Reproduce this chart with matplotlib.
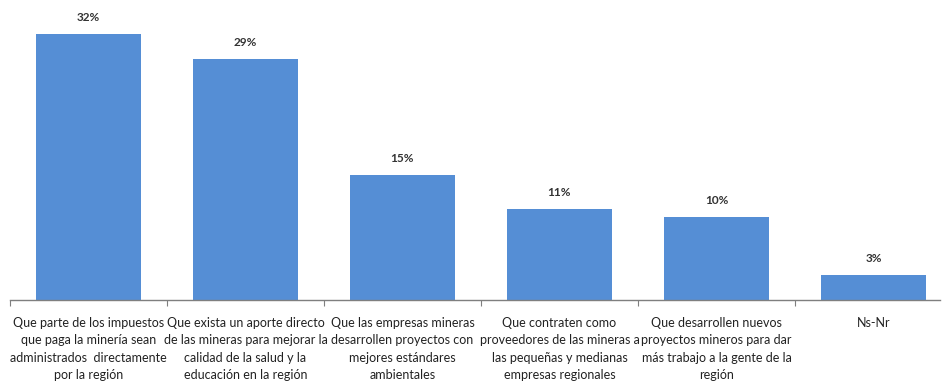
import matplotlib.pyplot as plt

categories = [
    "Que parte de los impuestos\nque paga la minería sean\nadministrados  directamente\npor la región",
    "Que exista un aporte directo\nde las mineras para mejorar la\ncalidad de la salud y la\neducación en la región",
    "Que las empresas mineras\ndesarrollen proyectos con\nmejores estándares\nambientales",
    "Que contraten como\nproveedores de las mineras a\nlas pequeñas y medianas\nempresas regionales",
    "Que desarrollen nuevos\nproyectos mineros para dar\nmás trabajo a la gente de la\nregión",
    "Ns-Nr",
]
values = [32, 29, 15, 11, 10, 3]

plt.rcParams["font.family"] = ["Lato", "DejaVu Sans"]

fig = plt.figure(figsize=(9.43, 3.85), dpi=100)
ax = fig.add_axes([10 / 943, 85 / 385, 930 / 943, 291 / 385])

x = range(len(values))
bars = ax.bar(x, values, width=0.665, color="#558ED5", zorder=2)

for b, v in zip(bars, values):
    ax.text(b.get_x() + b.get_width() / 2, v + 1.3, f"{v}%",
            ha="center", va="bottom", fontsize=8.5, fontweight="bold", color="#333333")

for i, lab in enumerate(categories):
    ax.text(i, -2.0, lab, ha="center", va="top", fontsize=9.0,
            color="#222222", linespacing=1.55)

ax.set_xlim(-0.5, 5.424)
ax.set_ylim(0, 35)

for s in ["top", "right", "left"]:
    ax.spines[s].set_visible(False)
ax.spines["bottom"].set_color("#7f7f7f")
ax.spines["bottom"].set_linewidth(1.0)

ax.set_yticks([])
ax.set_xticks([i - 0.5 for i in range(6)])
ax.set_xticklabels([])
ax.tick_params(axis="x", direction="out", length=4, color="#7f7f7f")

fig.savefig("out.png", dpi=100)
